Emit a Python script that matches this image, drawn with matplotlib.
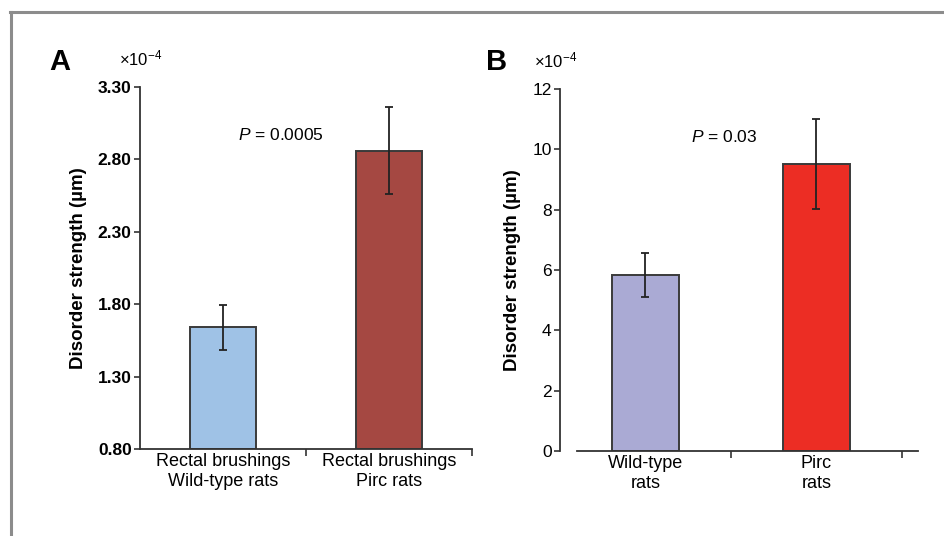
import matplotlib
matplotlib.use("Agg")
import matplotlib.pyplot as plt
from matplotlib.lines import Line2D

plt.rcParams['font.family'] = ['Liberation Sans', 'DejaVu Sans']
plt.rcParams['mathtext.fontset'] = 'custom'
plt.rcParams['mathtext.rm'] = 'Liberation Sans'
plt.rcParams['mathtext.it'] = 'Liberation Sans:italic'
plt.rcParams['mathtext.bf'] = 'Liberation Sans:bold'

# Panel A data (x1e-4 um)
cats_a = ["Rectal brushings\nWild-type rats", "Rectal brushings\nPirc rats"]
vals_a = [1.64, 2.86]
errs_a = [0.155, 0.30]
colors_a = ["#9FC2E6", "#A54842"]
yticks_a = [0.80, 1.30, 1.80, 2.30, 2.80, 3.30]

# Panel B data (x1e-4 um)
cats_b = ["Wild-type\nrats", "Pirc\nrats"]
vals_b = [5.83, 9.5]
errs_b = [0.73, 1.49]
colors_b = ["#AAAAD4", "#EC2D24"]
yticks_b = [0, 2, 4, 6, 8, 10, 12]

W, H = 944, 536
fig = plt.figure(figsize=(W / 100, H / 100), dpi=100)

# gray frame
fig.add_artist(Line2D([11 / W, 11 / W], [0, 1 - 12 / H], color="#8C8C8C", lw=2.2, transform=fig.transFigure))
fig.add_artist(Line2D([10 / W, 1], [1 - 12 / H, 1 - 12 / H], color="#8C8C8C", lw=2.2, transform=fig.transFigure))

def fr(x0, y0, x1, y1):
    return [x0 / W, 1 - y1 / H, (x1 - x0) / W, (y1 - y0) / H]

edge = "#3A3A3A"
XT = 13.0
LS = 1.22

# ---- Panel A
axA = fig.add_axes(fr(140, 87, 472, 449))
xa = list(range(len(cats_a)))
axA.bar(xa, [v - 0.80 for v in vals_a], bottom=0.80, width=0.40, color=colors_a,
        edgecolor=edge, linewidth=1.4, zorder=2)
axA.errorbar(xa, vals_a, yerr=errs_a, fmt='none', ecolor="#222222", elinewidth=1.3,
             capsize=3, capthick=1.3, zorder=3)
axA.set_xlim(-0.5, 1.5)
axA.set_ylim(0.80, 3.30)
axA.set_yticks(yticks_a)
axA.set_yticklabels([f"{t:.2f}" for t in yticks_a], fontweight='bold', fontsize=12.5)
axA.set_xticks(xa)
axA.set_xticklabels(cats_a, fontsize=XT, linespacing=LS)
axA.tick_params(axis='x', length=0, pad=3)
axA.set_xticks([0.5, 1.5], minor=True)
axA.tick_params(axis='x', which='minor', length=5, direction='out', width=1.2, color="#333333")
axA.tick_params(axis='y', length=4, width=1.2, color="#333333", pad=2)
for s in ['top', 'right']:
    axA.spines[s].set_visible(False)
for s in ['left', 'bottom']:
    axA.spines[s].set_linewidth(1.3)
    axA.spines[s].set_color("#333333")
axA.set_ylabel("Disorder strength (µm)", fontweight='bold', fontsize=13.5, labelpad=8)
axA.text(0.35, 2.97, "$P$ = 0.0005", fontsize=12.5, ha='center', va='center')
fig.text(60 / W, 1 - 62 / H, "A", fontsize=21, fontweight='bold', ha='center', va='center')
fig.text(119 / W, 1 - 58 / H, "×10$^{-4}$", fontsize=12, ha='left', va='center')

# ---- Panel B
axB = fig.add_axes(fr(560, 89, 918, 451))
xb = list(range(len(cats_b)))
axB.bar(xb, vals_b, width=0.39, color=colors_b, edgecolor=edge, linewidth=1.4, zorder=2)
axB.errorbar(xb, vals_b, yerr=errs_b, fmt='none', ecolor="#222222", elinewidth=1.3,
             capsize=3, capthick=1.3, zorder=3)
axB.set_xlim(-0.5, 1.594)
axB.set_ylim(0, 12)
axB.set_yticks(yticks_b)
axB.set_yticklabels([str(t) for t in yticks_b], fontsize=12.5)
axB.set_xticks(xb)
axB.set_xticklabels(cats_b, fontsize=XT, linespacing=LS)
axB.tick_params(axis='x', length=0, pad=3)
axB.set_xticks([0.5, 1.5], minor=True)
axB.tick_params(axis='x', which='minor', length=5, direction='out', width=1.2, color="#333333")
axB.tick_params(axis='y', length=4, width=1.2, color="#333333", pad=2)
for s in ['top', 'right']:
    axB.spines[s].set_visible(False)
for s in ['left', 'bottom']:
    axB.spines[s].set_linewidth(1.3)
    axB.spines[s].set_color("#333333")
axB.spines['bottom'].set_bounds(-0.4, 1.594)
axB.set_ylabel("Disorder strength (µm)", fontweight='bold', fontsize=13.5, labelpad=8)
axB.text(0.46, 10.4, "$P$ = 0.03", fontsize=12.5, ha='center', va='center')
fig.text(497 / W, 1 - 62 / H, "B", fontsize=21, fontweight='bold', ha='center', va='center')
fig.text(534 / W, 1 - 60 / H, "×10$^{-4}$", fontsize=12, ha='left', va='center')

fig.savefig("out.png", dpi=100)
